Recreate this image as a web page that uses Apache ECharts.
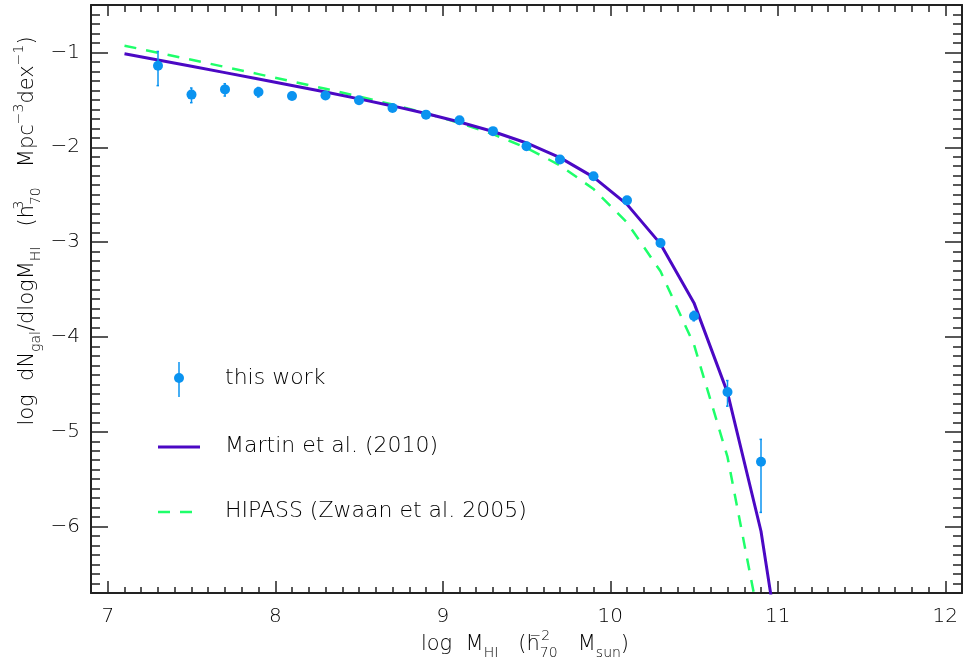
<!DOCTYPE html>
<html><head><meta charset="utf-8">
<script src="https://cdn.jsdelivr.net/npm/echarts@6/dist/echarts.min.js"></script>
<style>html,body{margin:0;padding:0;background:#fff}#c{width:963px;height:669px}</style>
</head><body><div id="c"></div>
<script>
// ---- data ----
const massBins = [7.3, 7.5, 7.7, 7.9, 8.1, 8.3, 8.5, 8.7, 8.9, 9.1, 9.3, 9.5, 9.7, 9.9, 10.1, 10.3, 10.5, 10.7, 10.9];
const thisWork = [-1.14, -1.445, -1.39, -1.417, -1.46, -1.455, -1.505, -1.585, -1.656, -1.716, -1.83, -1.99, -2.13, -2.305, -2.56, -3.01, -3.78, -4.58, -5.316];
const errLow  = [-1.35, -1.53, -1.46, -1.47, -1.49, -1.48, -1.53, -1.61, -1.68, -1.74, -1.855, -2.015, -2.155, -2.33, -2.59, -3.04, -3.83, -4.73, -5.85];
const errHigh = [-0.99, -1.375, -1.33, -1.37, -1.43, -1.43, -1.48, -1.56, -1.63, -1.69, -1.805, -1.965, -2.105, -2.28, -2.53, -2.98, -3.73, -4.46, -5.08];
const modelMass = [7.1, 7.3, 7.5, 7.7, 7.9, 8.1, 8.3, 8.5, 8.7, 8.9, 9.1, 9.3, 9.5, 9.7, 9.9, 10.1, 10.3, 10.5, 10.7, 10.9, 11.1];
const martin = [-1.013, -1.080, -1.146, -1.213, -1.281, -1.349, -1.418, -1.490, -1.564, -1.644, -1.733, -1.834, -1.955, -2.109, -2.315, -2.602, -3.019, -3.641, -4.587, -6.049, -8.328];
const hipass = [-0.929, -1.003, -1.078, -1.153, -1.229, -1.306, -1.384, -1.465, -1.550, -1.642, -1.744, -1.862, -2.006, -2.191, -2.440, -2.793, -3.308, -4.082, -5.265, -7.096, -9.955];
const xTickLabels = [7, 8, 9, 10, 11, 12];
const yTickLabels = [-6, -5, -4, -3, -2, -1];
const legendNames = ['this work', 'Martin et al. (2010)', 'HIPASS (Zwaan et al. 2005)'];

const FONT = 'DejaVu Sans';
const FW = 200;
const TXT = '#000';
const AX = '#222';
const C_PT = '#0a93f0', C_M = '#4b08c4', C_H = '#1eff6a';

const xMinor = []; for (let i = 69; i <= 121; i++) xMinor.push(i / 10);
const yMinor = []; for (let i = -67; i <= -5; i++) yMinor.push(i / 10);

const X0 = 6.9, X1 = 12.1, Y0 = -6.7, Y1 = -0.5;

function xAx(pos, ticks, len, line, labels) {
  return {
    type: 'value', position: pos, min: X0, max: X1,
    splitLine: { show: false },
    axisLine: { show: line, onZero: false, lineStyle: { color: AX, width: 2 } },
    axisTick: { show: true, inside: true, length: len, customValues: ticks, lineStyle: { color: AX, width: 1.5 } },
    axisLabel: labels ? { show: true, customValues: xTickLabels, margin: 14, fontSize: 20, fontFamily: FONT, fontWeight: FW, color: TXT } : { show: false }
  };
}
function yAx(pos, ticks, len, line, labels) {
  return {
    type: 'value', position: pos, min: Y0, max: Y1,
    splitLine: { show: false },
    axisLine: { show: line, onZero: false, lineStyle: { color: AX, width: 2 } },
    axisTick: { show: true, inside: true, length: len, customValues: ticks, lineStyle: { color: AX, width: 1.5 } },
    axisLabel: labels ? { show: true, customValues: yTickLabels, margin: 11, fontSize: 20, fontFamily: FONT, fontWeight: FW, color: TXT,
      formatter: v => (v < 0 ? '\u2212' : '') + Math.abs(v) } : { show: false }
  };
}

const pts = massBins.map((x, i) => [x, thisWork[i]]);
const errs = massBins.map((x, i) => [x, errLow[i], errHigh[i]]);

const rich = {
  sub: { fontSize: 14, fontFamily: FONT, fontWeight: FW, fill: TXT, verticalAlign: 'bottom', lineHeight: 15 },
  sup: { fontSize: 14, fontFamily: FONT, fontWeight: FW, fill: TXT, verticalAlign: 'top', lineHeight: 15 },
  sup0: { fontSize: 14, fontFamily: FONT, fontWeight: FW, fill: TXT, verticalAlign: 'top', lineHeight: 15, width: 0 }
};
const baseTxt = { fontSize: 21, fontFamily: FONT, fontWeight: FW, fill: TXT, lineHeight: 31, align: 'center', verticalAlign: 'middle', rich: rich };
const legTxt = { fontSize: 22, fontFamily: FONT, fontWeight: FW, fill: TXT, align: 'left', verticalAlign: 'middle' };

const option = {
  backgroundColor: '#fff',
  animation: false,
  grid: { left: 91, right: 1, top: 5, bottom: 76, containLabel: false },
  xAxis: [
    xAx('bottom', xTickLabels, 12, true, true),
    xAx('bottom', xMinor, 6, false, false),
    xAx('top', xTickLabels, 11, true, false),
    xAx('top', xMinor, 7, false, false)
  ],
  yAxis: [
    yAx('left', yTickLabels, 17, true, true),
    yAx('left', yMinor, 9, false, false),
    yAx('right', yTickLabels, 17, true, false),
    yAx('right', yMinor, 9, false, false)
  ],
  series: [
    { name: legendNames[2], type: 'line', data: modelMass.map((x, i) => [x, hipass[i]]), showSymbol: false, symbol: 'none',
      lineStyle: { color: C_H, width: 2.5, type: [12, 10] }, z: 2 },
    { name: legendNames[1], type: 'line', data: modelMass.map((x, i) => [x, martin[i]]), showSymbol: false, symbol: 'none',
      lineStyle: { color: C_M, width: 3 }, z: 3 },
    { name: legendNames[0] + ' err', type: 'custom', data: errs, z: 4,
      renderItem: (params, api) => {
        const a = api.coord([api.value(0), api.value(1)]);
        const b = api.coord([api.value(0), api.value(2)]);
        return { type: 'group', children: [
          { type: 'line', shape: { x1: a[0], y1: a[1], x2: b[0], y2: b[1] }, style: { stroke: C_PT, lineWidth: 1.5 } },
          { type: 'line', shape: { x1: a[0] - 1.5, y1: a[1], x2: a[0] + 1, y2: a[1] }, style: { stroke: C_PT, lineWidth: 1.5 } },
          { type: 'line', shape: { x1: b[0] - 1.5, y1: b[1], x2: b[0] + 1, y2: b[1] }, style: { stroke: C_PT, lineWidth: 1.5 } }
        ] };
      } },
    { name: legendNames[0], type: 'scatter', data: pts, symbol: 'circle', symbolSize: 10, itemStyle: { color: C_PT, opacity: 1 }, z: 5 }
  ],
  graphic: [
    // legend
    { type: 'line', shape: { x1: 179, y1: 362, x2: 179, y2: 397 }, style: { stroke: C_PT, lineWidth: 1.5 } },
    { type: 'circle', shape: { cx: 179, cy: 378, r: 5 }, style: { fill: C_PT } },
    { type: 'text', x: 225, y: 378, style: Object.assign({}, legTxt, { text: legendNames[0] }) },
    { type: 'line', shape: { x1: 158, y1: 447, x2: 200, y2: 447 }, style: { stroke: C_M, lineWidth: 3 } },
    { type: 'text', x: 225, y: 446, style: Object.assign({}, legTxt, { text: legendNames[1] }) },
    { type: 'line', shape: { x1: 158, y1: 512, x2: 192, y2: 512 }, style: { stroke: C_H, lineWidth: 2.5, lineDash: [12, 10] } },
    { type: 'text', x: 225, y: 511, style: Object.assign({}, legTxt, { text: legendNames[2] }) },
    // axis titles
    { type: 'text', x: 525, y: 645, style: Object.assign({}, baseTxt, { text: 'log  M{sub|HI}   (h{sup0|\u22122}{sub|70}   M{sub|sun})' }) },
    { type: 'text', x: 28, y: 231, rotation: Math.PI / 2, style: Object.assign({}, baseTxt, { text: 'log  dN{sub|gal}/dlogM{sub|HI}   (h{sup0|3}{sub|70}   Mpc{sup|\u22123}dex{sup|\u22121})' }) }
  ]
};

const chart = echarts.init(document.getElementById('c'), null, { renderer: 'canvas' });
chart.setOption(option);
</script></body></html>
